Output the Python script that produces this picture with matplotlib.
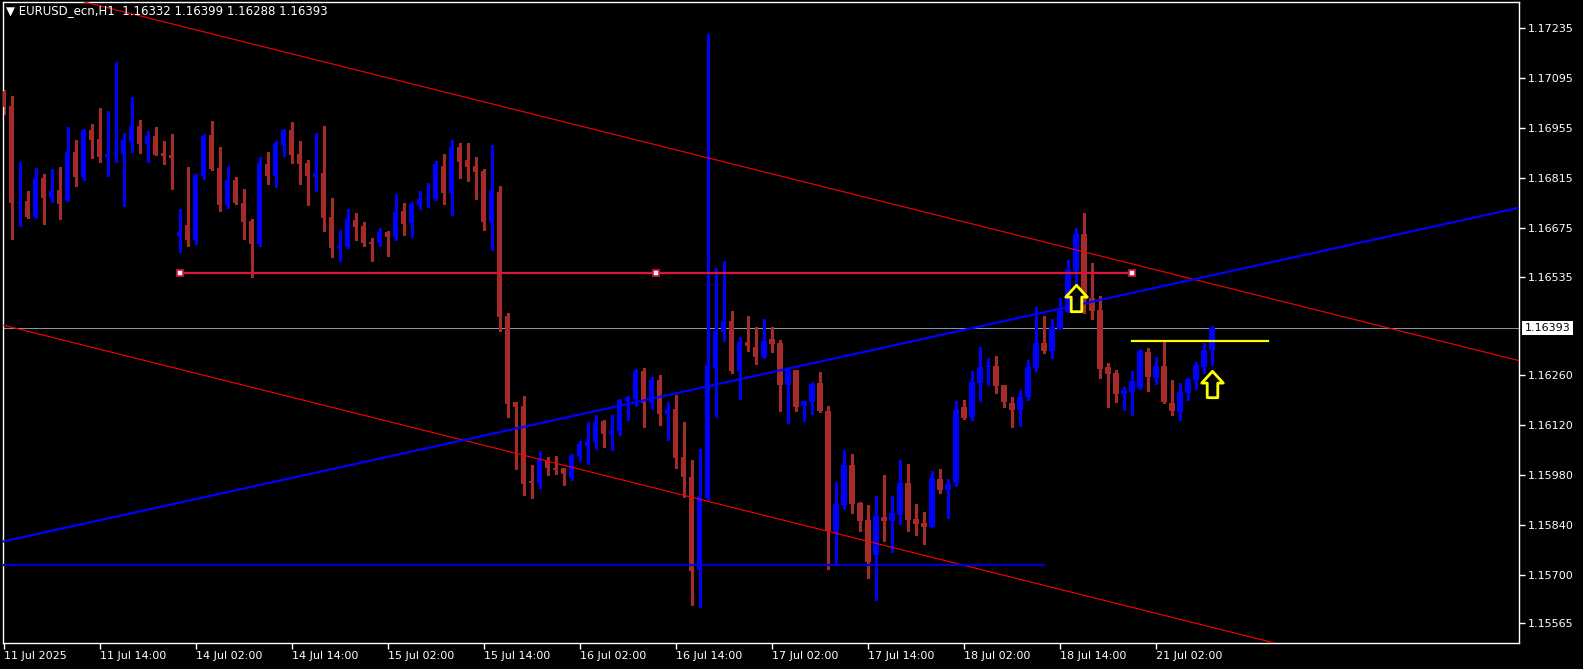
import matplotlib
matplotlib.use('Agg')
import matplotlib.pyplot as plt
import numpy as np
from matplotlib.path import Path

# EURUSD H1 candles, bar 0 = 11 Jul 02:00
opens = [
    1.17059, 1.17017, 1.16745, 1.16750, 1.16706, 1.16814, 1.16759, 1.16781, 1.16751, 1.16887,
    1.16818, 1.16949, 1.16924, 1.16874, 1.16883, 1.16882, 1.16916, 1.16960, 1.16910, 1.16932,
    1.16885, 1.16879, 1.16651, 1.16682, 1.16640, 1.16820, 1.16935, 1.16842, 1.16738, 1.16809,
    1.16744, 1.16694, 1.16629, 1.16854, 1.16821, 1.16907, 1.16949, 1.16882, 1.16857, 1.16817,
    1.16828, 1.16705, 1.16619, 1.16621, 1.16696, 1.16679, 1.16635, 1.16633, 1.16663, 1.16649,
    1.16722, 1.16689, 1.16739, 1.16755, 1.16755, 1.16848, 1.16773, 1.16901, 1.16865, 1.16848,
    1.16834, 1.16692, 1.16775, 1.16427, 1.16185, 1.16174, 1.15963, 1.15957, 1.16022, 1.15999,
    1.15999, 1.15971, 1.16034, 1.16062, 1.16073, 1.16132, 1.16096, 1.16103, 1.16188, 1.16193,
    1.16272, 1.16182, 1.16247, 1.16151, 1.16165, 1.16030, 1.15974, 1.15713, 1.15915, 1.16280,
    1.16382, 1.16413, 1.16272, 1.16354, 1.16339, 1.16311, 1.16362, 1.16351, 1.16233, 1.16275,
    1.16174, 1.16185, 1.16238, 1.16160, 1.15820, 1.15895, 1.16008, 1.15901, 1.15853, 1.15755,
    1.15862, 1.15851, 1.15867, 1.15957, 1.15856, 1.15845, 1.15834, 1.15969, 1.15938, 1.15957,
    1.16171, 1.16143, 1.16238, 1.16283, 1.16286, 1.16233, 1.16182, 1.16162, 1.16199, 1.16280,
    1.16351, 1.16328, 1.16390, 1.16438, 1.16553, 1.16657, 1.16477, 1.16443, 1.16283, 1.16266,
    1.16207, 1.16213, 1.16224, 1.16325, 1.16252, 1.16286, 1.16182, 1.16157, 1.16210, 1.16247,
    1.16283, 1.16332]
highs = [
    1.17062, 1.17045, 1.16859, 1.16778, 1.16842, 1.16826, 1.16839, 1.16845, 1.16958, 1.16921,
    1.16952, 1.16966, 1.17011, 1.17003, 1.17141, 1.16940, 1.17043, 1.16977, 1.16946, 1.16958,
    1.16918, 1.16938, 1.16728, 1.16845, 1.16826, 1.16938, 1.16975, 1.16901, 1.16848, 1.16817,
    1.16783, 1.16699, 1.16873, 1.16887, 1.16918, 1.16952, 1.16972, 1.16918, 1.16865, 1.16941,
    1.16960, 1.16758, 1.16668, 1.16727, 1.16716, 1.16691, 1.16646, 1.16674, 1.16665, 1.16769,
    1.16744, 1.16747, 1.16778, 1.16800, 1.16862, 1.16882, 1.16921, 1.16913, 1.16913, 1.16873,
    1.16840, 1.16907, 1.16792, 1.16435, 1.16186, 1.16202, 1.16008, 1.16045, 1.16030, 1.16034,
    1.16000, 1.16040, 1.16076, 1.16129, 1.16148, 1.16134, 1.16148, 1.16193, 1.16202, 1.16278,
    1.16280, 1.16255, 1.16261, 1.16185, 1.16205, 1.16129, 1.16022, 1.16053, 1.17219, 1.16561,
    1.16581, 1.16441, 1.16368, 1.16427, 1.16396, 1.16417, 1.16396, 1.16359, 1.16283, 1.16276,
    1.16189, 1.16241, 1.16269, 1.16174, 1.15960, 1.16050, 1.16039, 1.15904, 1.15895, 1.15921,
    1.15980, 1.15921, 1.16022, 1.16011, 1.15898, 1.15876, 1.15991, 1.15997, 1.15969, 1.16188,
    1.16191, 1.16272, 1.16339, 1.16309, 1.16314, 1.16234, 1.16199, 1.16219, 1.16303, 1.16452,
    1.16427, 1.16418, 1.16477, 1.16584, 1.16674, 1.16716, 1.16576, 1.16483, 1.16295, 1.16275,
    1.16227, 1.16272, 1.16334, 1.16337, 1.16311, 1.16354, 1.16247, 1.16238, 1.16252, 1.16297,
    1.16351, 1.16399]
lows = [
    1.16995, 1.16644, 1.16680, 1.16703, 1.16701, 1.16686, 1.16748, 1.16700, 1.16749, 1.16793,
    1.16809, 1.16871, 1.16860, 1.16821, 1.16859, 1.16737, 1.16887, 1.16885, 1.16859, 1.16879,
    1.16854, 1.16783, 1.16607, 1.16623, 1.16630, 1.16812, 1.16837, 1.16722, 1.16730, 1.16741,
    1.16643, 1.16536, 1.16623, 1.16798, 1.16790, 1.16877, 1.16857, 1.16798, 1.16738, 1.16779,
    1.16666, 1.16593, 1.16582, 1.16619, 1.16641, 1.16624, 1.16582, 1.16624, 1.16596, 1.16641,
    1.16655, 1.16649, 1.16728, 1.16734, 1.16753, 1.16742, 1.16711, 1.16815, 1.16807, 1.16755,
    1.16669, 1.16612, 1.16384, 1.16143, 1.15997, 1.15924, 1.15915, 1.15944, 1.15980, 1.15983,
    1.15952, 1.15966, 1.16019, 1.16012, 1.16053, 1.16059, 1.16050, 1.16092, 1.16134, 1.16175,
    1.16115, 1.16165, 1.16120, 1.16078, 1.15999, 1.15918, 1.15615, 1.15609, 1.15913, 1.16143,
    1.16356, 1.16268, 1.16193, 1.16328, 1.16293, 1.16309, 1.16325, 1.16160, 1.16126, 1.16160,
    1.16132, 1.16151, 1.16157, 1.15716, 1.15727, 1.15884, 1.15873, 1.15822, 1.15690, 1.15629,
    1.15794, 1.15763, 1.15842, 1.15822, 1.15811, 1.15786, 1.15833, 1.15929, 1.15859, 1.15949,
    1.16137, 1.16134, 1.16188, 1.16233, 1.16210, 1.16171, 1.16115, 1.16117, 1.16191, 1.16272,
    1.16323, 1.16309, 1.16389, 1.16437, 1.16443, 1.16435, 1.16418, 1.16252, 1.16171, 1.16185,
    1.16162, 1.16148, 1.16223, 1.16216, 1.16236, 1.16182, 1.16148, 1.16134, 1.16191, 1.16221,
    1.16266, 1.16288]
closes = [
    1.17015, 1.16745, 1.16748, 1.16705, 1.16814, 1.16759, 1.16779, 1.16742, 1.16887, 1.16818,
    1.16949, 1.16922, 1.16874, 1.16882, 1.16884, 1.16921, 1.16960, 1.16910, 1.16932, 1.16879,
    1.16876, 1.16871, 1.16663, 1.16640, 1.16823, 1.16932, 1.16840, 1.16738, 1.16809, 1.16744,
    1.16691, 1.16629, 1.16857, 1.16821, 1.16913, 1.16949, 1.16879, 1.16855, 1.16821, 1.16828,
    1.16703, 1.16619, 1.16624, 1.16699, 1.16678, 1.16633, 1.16630, 1.16663, 1.16649, 1.16719,
    1.16686, 1.16741, 1.16755, 1.16756, 1.16854, 1.16773, 1.16901, 1.16860, 1.16846, 1.16831,
    1.16692, 1.16781, 1.16424, 1.16179, 1.16171, 1.15955, 1.15958, 1.16026, 1.15999, 1.15994,
    1.15983, 1.16036, 1.16067, 1.16075, 1.16129, 1.16096, 1.16103, 1.16191, 1.16199, 1.16272,
    1.16182, 1.16247, 1.16151, 1.16165, 1.16028, 1.15974, 1.15711, 1.15921, 1.16289, 1.16384,
    1.16413, 1.16272, 1.16354, 1.16342, 1.16312, 1.16356, 1.16348, 1.16233, 1.16275, 1.16171,
    1.16188, 1.16236, 1.16160, 1.15822, 1.15898, 1.16008, 1.15898, 1.15851, 1.15735, 1.15865,
    1.15851, 1.15873, 1.15957, 1.15853, 1.15842, 1.15834, 1.15971, 1.15938, 1.15955, 1.16162,
    1.16140, 1.16241, 1.16283, 1.16286, 1.16230, 1.16185, 1.16162, 1.16199, 1.16283, 1.16351,
    1.16328, 1.16396, 1.16441, 1.16556, 1.16657, 1.16472, 1.16441, 1.16278, 1.16264, 1.16207,
    1.16219, 1.16244, 1.16328, 1.16255, 1.16286, 1.16185, 1.16160, 1.16213, 1.16250, 1.16289,
    1.16331, 1.16393]

date_ticks = [0, 12, 24, 36, 48, 60, 72, 84, 96, 108, 120, 132, 144]
date_labels = ['11 Jul 2025', '11 Jul 14:00', '14 Jul 02:00', '14 Jul 14:00',
               '15 Jul 02:00', '15 Jul 14:00', '16 Jul 02:00', '16 Jul 14:00',
               '17 Jul 02:00', '17 Jul 14:00', '18 Jul 02:00', '18 Jul 14:00',
               '21 Jul 02:00']
price_ticks = [1.17235, 1.17095, 1.16955, 1.16815, 1.16675, 1.16535,
               1.16260, 1.16120, 1.15980, 1.15840, 1.15700, 1.15565]

# drawn objects (bar index, price)
line_bars = [-10, 190]
chan_upper = [1.17422, 1.16298]
chan_lower = [1.16457, 1.15333]
trend_up = [1.15744, 1.16734]
support_bars = [-2, 130]
support_price = 1.15728
resist_bars = [22, 81.5, 141]
resist_price = 1.16548
yellow_bars = [141, 158]
yellow_price = 1.16357
arrow_bars = [134, 151]
arrow_prices = [1.16476, 1.16235]

bull = '#0000FF'
bear = '#A52A2A'

W, H = 1583, 669
fig = plt.figure(figsize=(W / 100, H / 100), dpi=100, facecolor='black')
ax = fig.add_axes([3 / W, (H - 643) / H, (1519 - 3) / W, (643 - 2) / H])
ax.set_facecolor('black')

x = np.arange(len(opens))
o = np.array(opens)
c = np.array(closes)
cols = [bull if cc > oo else bear for oo, cc in zip(o, c)]
ax.vlines(x, lows, highs, colors=cols, linewidth=0.75, antialiased=False, zorder=2)
body = np.maximum(np.abs(c - o), 0.00003)
ax.bar(x, body, bottom=np.minimum(o, c), width=0.7, color=cols,
       linewidth=0, zorder=3)

# current price line
last = closes[-1]
ax.axhline(last, color='#8494a6', linewidth=0.75, zorder=1)

ax.plot(line_bars, chan_upper, color='#FF0000', linewidth=0.8, zorder=4)
ax.plot(line_bars, chan_lower, color='#FF0000', linewidth=0.8, zorder=4)
ax.plot(line_bars, trend_up, color='#0000FF', linewidth=1.6, zorder=4)
ax.plot(support_bars, [support_price] * 2, color='#0000CD', linewidth=1.6, zorder=4)
ax.plot([resist_bars[0], resist_bars[-1]], [resist_price] * 2, color='#DC143C',
        linewidth=1.6, zorder=4)
ax.plot(resist_bars, [resist_price] * 3, linestyle='none', marker='s', markersize=4,
        markerfacecolor='white', markeredgecolor='#DC143C', markeredgewidth=1.2, zorder=5)
ax.plot(yellow_bars, [yellow_price] * 2, color='#FFFF00', linewidth=1.6, zorder=4)

arrow = Path([(0, 0.65), (0.53, 0.07), (0.26, 0.07), (0.26, -0.65), (-0.26, -0.65),
              (-0.26, 0.07), (-0.53, 0.07), (0, 0.65)],
             [Path.MOVETO] + [Path.LINETO] * 6 + [Path.CLOSEPOLY])
ax.plot(arrow_bars, arrow_prices, linestyle='none', marker=arrow, markersize=19,
        markerfacecolor='black', markeredgecolor='#FFFF00', markeredgewidth=2, zorder=6)

ax.set_xlim(-0.075, 189.4)
ax.set_ylim(1.15508, 1.17309)

for s in ax.spines.values():
    s.set_color('white')
    s.set_linewidth(1)

ax.yaxis.tick_right()
ax.set_yticks(price_ticks)
ax.set_yticklabels(['%.5f' % p for p in price_ticks])
ax.set_xticks(date_ticks)
ax.set_xticklabels(date_labels, ha='left')
ax.tick_params(colors='white', labelsize=8, length=4, width=1, pad=2)

ax.annotate('%.5f' % last, xy=(1, last), xycoords=('axes fraction', 'data'),
            xytext=(4, 0), textcoords='offset points', ha='left', va='center',
            fontsize=8, color='black',
            bbox=dict(boxstyle='square,pad=0.2', fc='white', ec='none'))

title = '\u25bc EURUSD_ecn,H1  %.5f %.5f %.5f %.5f' % (opens[-1], highs[-1], lows[-1], closes[-1])
fig.text(6 / W, 1 - 11 / H, title, color='white', fontsize=8.5, va='center', ha='left')

fig.savefig('out.png', dpi=100, facecolor='black')
